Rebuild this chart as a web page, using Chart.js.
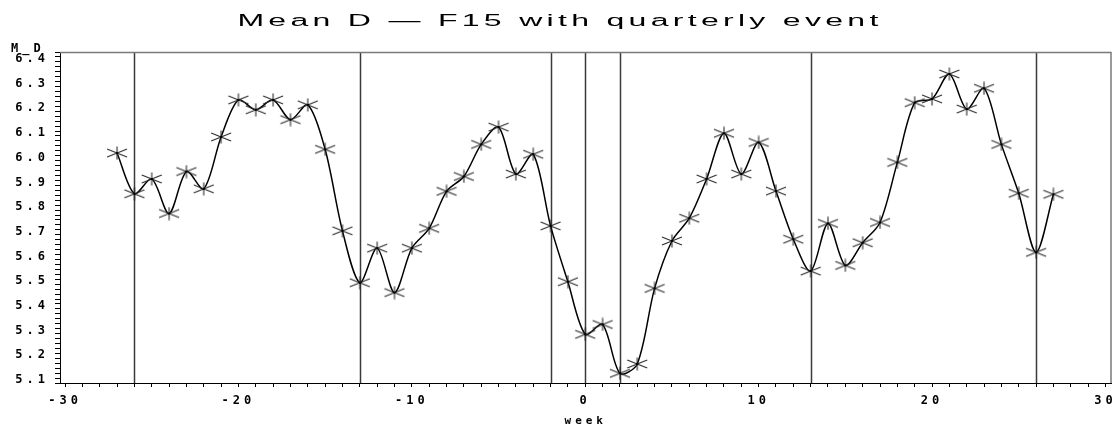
<!DOCTYPE html>
<html>
<head>
<meta charset="utf-8">
<title>Mean D - F15 with quarterly event</title>
<script src="https://cdn.jsdelivr.net/npm/chart.js@4/dist/chart.umd.min.js"></script>
<style>
    html, body { margin: 0; padding: 0; background: #ffffff; }
    #wrap { width: 1120px; height: 432px; }
</style>
</head>
<body>
<div id="wrap"><canvas id="meanChart" width="1120" height="432"></canvas></div>
<script>
// Weekly means of M_D around the event (week 0)
const weeks = [
    -27, -26, -25, -24, -23, -22, -21, -20, -19, -18, -17, -16, -15, -14,
    -13, -12, -11, -10, -9, -8, -7, -6, -5, -4, -3, -2, -1,
    0, 1, 2, 3, 4, 5, 6, 7, 8, 9, 10, 11, 12, 13,
    14, 15, 16, 17, 18, 19, 20, 21, 22, 23, 24, 25, 26, 27
];
const meanD = [
    6.015, 5.85, 5.91, 5.77, 5.94, 5.87, 6.08, 6.23, 6.19, 6.23, 6.15, 6.21, 6.03, 5.70,
    5.49, 5.63, 5.45, 5.63, 5.71, 5.86, 5.92, 6.05, 6.12, 5.93, 6.01, 5.72, 5.494,
    5.281, 5.321, 5.123, 5.161, 5.467, 5.659, 5.751, 5.91, 6.095, 5.93, 6.058, 5.861, 5.666, 5.537,
    5.73, 5.56, 5.652, 5.734, 5.977, 6.219, 6.234, 6.335, 6.193, 6.277, 6.05, 5.852, 5.613, 5.848
];
// Quarterly event reference lines
const eventWeeks = [-26, -13, -2, 0, 2, 13, 26];

// Axis settings
const xRange = [-30.29, 30.35];
const xLabelStep = 10;
const yRange = [5.084, 6.424];
const yLabelStep = 0.1;
const yMinorStep = 0.02;

const titleText = 'Mean D \u2014 F15 with quarterly event';
const yAxisLabel = 'M_D';
const xAxisLabel = 'week';

const tickFont = { family: 'DejaVu Sans Mono', size: 12, weight: 'bold' };

// Star marker similar to the SAS symbol
function makeStar() {
    const c = document.createElement('canvas');
    c.width = 22;
    c.height = 14;
    const g = c.getContext('2d');
    g.strokeStyle = '#2a2a2a';
    g.lineWidth = 1.1;
    g.beginPath();
    g.moveTo(11, 0.5); g.lineTo(11, 13.5);
    g.moveTo(1, 3); g.lineTo(21, 11);
    g.moveTo(1, 11); g.lineTo(21, 3);
    g.stroke();
    g.fillStyle = '#000000';
    g.fillRect(10, 6, 2, 2);
    return c;
}

// Event lines, frame, title and the y label
const decorPlugin = {
    id: 'decor',
    beforeDraw(chart) {
        chart.ctx.letterSpacing = '4px';
    },
    beforeDatasetsDraw(chart) {
        const { ctx, chartArea, scales } = chart;
        ctx.save();
        ctx.strokeStyle = '#3a3a3a';
        ctx.lineWidth = 1.5;
        eventWeeks.forEach(w => {
            const px = Math.round(scales.x.getPixelForValue(w)) + 0.5;
            ctx.beginPath();
            ctx.moveTo(px, chartArea.top);
            ctx.lineTo(px, chartArea.bottom);
            ctx.stroke();
        });
        // top and right frame
        ctx.strokeStyle = '#7a7a7a';
        ctx.lineWidth = 1.5;
        ctx.beginPath();
        ctx.moveTo(chartArea.left, chartArea.top + 0.5);
        ctx.lineTo(chartArea.right - 0.5, chartArea.top + 0.5);
        ctx.lineTo(chartArea.right - 0.5, chartArea.bottom);
        ctx.stroke();
        ctx.restore();
    },
    afterDraw(chart) {
        const ctx = chart.ctx;
        ctx.save();
        // y variable label above the axis
        ctx.letterSpacing = '4px';
        ctx.font = 'bold 12px "DejaVu Sans Mono"';
        ctx.fillStyle = '#000000';
        ctx.textAlign = 'left';
        ctx.textBaseline = 'alphabetic';
        ctx.fillText(yAxisLabel, 11, 52);

        // stretched title
        ctx.font = '16px "Liberation Sans"';
        ctx.letterSpacing = '0px';
        const w0 = ctx.measureText(titleText).width;
        const sx = 2.0;
        const target = 645;
        const ls = Math.max(0, (target / sx - w0) / titleText.length);
        ctx.letterSpacing = ls.toFixed(2) + 'px';
        ctx.translate(560, 26);
        ctx.scale(sx, 1);
        ctx.textAlign = 'center';
        ctx.fillText(titleText, 0, 0);
        ctx.restore();
        ctx.letterSpacing = '0px';
    }
};

const ctx = document.getElementById('meanChart');

new Chart(ctx, {
    type: 'line',
    data: {
        datasets: [{
            label: 'M_D',
            data: weeks.map((w, i) => ({ x: w, y: meanD[i] })),
            borderColor: '#000000',
            borderWidth: 1.5,
            tension: 0.3,
            fill: false,
            pointStyle: makeStar(),
            pointRadius: 7,
            pointHoverRadius: 7
        }]
    },
    options: {
        responsive: false,
        animation: false,
        events: [],
        layout: {
            padding: { top: 52, right: 7, left: 0, bottom: 0 }
        },
        plugins: {
            legend: { display: false },
            title: { display: false },
            tooltip: { enabled: false }
        },
        scales: {
            x: {
                type: 'linear',
                min: xRange[0],
                max: xRange[1],
                afterFit(scale) { scale.height = 49; },
                border: { color: '#000000', width: 1 },
                grid: {
                    drawOnChartArea: false,
                    drawTicks: true,
                    tickLength: 4,
                    tickColor: '#000000'
                },
                ticks: {
                    stepSize: 1,
                    includeBounds: false,
                    autoSkip: false,
                    maxRotation: 0,
                    padding: 7,
                    color: '#000000',
                    font: tickFont,
                    callback: v => (Math.round(v) % xLabelStep === 0 ? String(Math.round(v)) : '')
                },
                title: {
                    display: true,
                    text: xAxisLabel,
                    color: '#000000',
                    font: { family: 'DejaVu Sans Mono', size: 11, weight: 'bold' },
                    padding: { top: 0, bottom: 4 }
                }
            },
            y: {
                min: yRange[0],
                max: yRange[1],
                afterFit(scale) { scale.width = 60; },
                border: { color: '#000000', width: 1 },
                grid: {
                    drawOnChartArea: false,
                    drawTicks: true,
                    tickLength: 5,
                    tickColor: '#000000'
                },
                ticks: {
                    stepSize: yMinorStep,
                    includeBounds: false,
                    autoSkip: false,
                    padding: 6,
                    labelOffset: 2,
                    color: '#000000',
                    font: tickFont,
                    callback: v => {
                        const r = Math.round(v * 100);
                        return r % Math.round(yLabelStep * 100) === 0 ? (r / 100).toFixed(1) : '';
                    }
                }
            }
        }
    },
    plugins: [decorPlugin]
});
</script>
</body>
</html>
